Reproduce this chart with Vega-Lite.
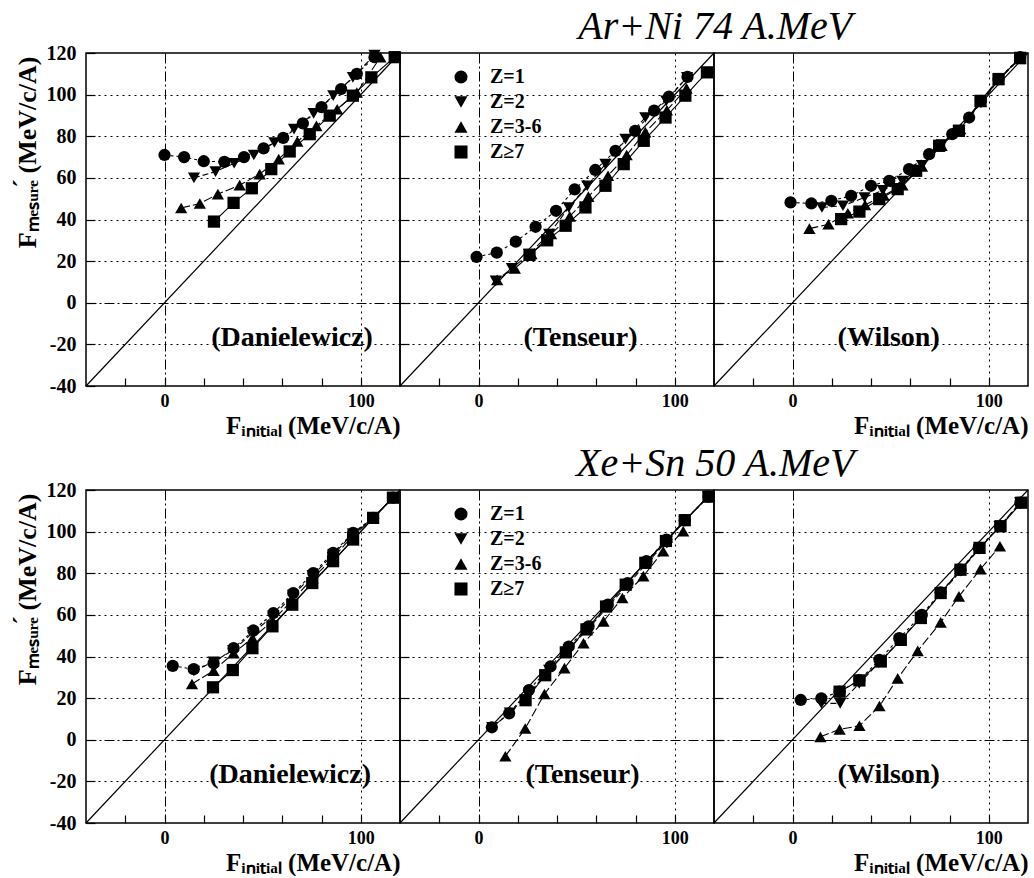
{
  "$schema": "https://vega.github.io/schema/vega-lite/v6.json",
  "padding": {"left": 13, "top": 7, "right": 0, "bottom": 0},
  "background": "white",
  "datasets": {
    "ar_dan": [
      {"Z":"Z=1","x":0,"y":71},{"Z":"Z=1","x":10,"y":70},{"Z":"Z=1","x":20,"y":68},{"Z":"Z=1","x":30.5,"y":67.7},{"Z":"Z=1","x":40.5,"y":70},{"Z":"Z=1","x":50.5,"y":74.2},{"Z":"Z=1","x":60.5,"y":79.2},{"Z":"Z=1","x":70.5,"y":86.2},{"Z":"Z=1","x":80,"y":94},{"Z":"Z=1","x":90,"y":102.7},{"Z":"Z=1","x":98,"y":110},{"Z":"Z=1","x":107,"y":118},
      {"Z":"Z=2","x":15,"y":60},{"Z":"Z=2","x":26,"y":63},{"Z":"Z=2","x":35.5,"y":67},{"Z":"Z=2","x":45.5,"y":71},{"Z":"Z=2","x":56,"y":77},{"Z":"Z=2","x":66,"y":83.4},{"Z":"Z=2","x":76,"y":91},{"Z":"Z=2","x":86,"y":99.5},{"Z":"Z=2","x":96,"y":108.3},{"Z":"Z=2","x":107,"y":119},
      {"Z":"Z=3-6","x":8.5,"y":45.5},{"Z":"Z=3-6","x":18,"y":47.7},{"Z":"Z=3-6","x":27.2,"y":52.2},{"Z":"Z=3-6","x":38.3,"y":56.5},{"Z":"Z=3-6","x":48.5,"y":61.8},{"Z":"Z=3-6","x":58.2,"y":69},{"Z":"Z=3-6","x":67.7,"y":77.5},{"Z":"Z=3-6","x":77.4,"y":85},{"Z":"Z=3-6","x":88,"y":93},{"Z":"Z=3-6","x":98,"y":101},{"Z":"Z=3-6","x":110,"y":118},
      {"Z":"Z≥7","x":25.2,"y":39},{"Z":"Z≥7","x":35.2,"y":48},{"Z":"Z≥7","x":44.5,"y":55},{"Z":"Z≥7","x":54.4,"y":64.2},{"Z":"Z≥7","x":63.8,"y":72.7},{"Z":"Z≥7","x":74,"y":81},{"Z":"Z≥7","x":84.2,"y":89.9},{"Z":"Z≥7","x":96,"y":99.5},{"Z":"Z≥7","x":105.4,"y":108.3},{"Z":"Z≥7","x":117.3,"y":118}
    ],
    "ar_ten": [
      {"Z":"Z=1","x":-1,"y":22},{"Z":"Z=1","x":9.3,"y":24.1},{"Z":"Z=1","x":19,"y":29.4},{"Z":"Z=1","x":29.1,"y":36.5},{"Z":"Z=1","x":39.5,"y":44.2},{"Z":"Z=1","x":49,"y":54.5},{"Z":"Z=1","x":59.5,"y":63.8},{"Z":"Z=1","x":69.8,"y":73},{"Z":"Z=1","x":79.8,"y":82.6},{"Z":"Z=1","x":89.5,"y":92.3},{"Z":"Z=1","x":97,"y":99},{"Z":"Z=1","x":106.5,"y":108.5},
      {"Z":"Z=2","x":8.8,"y":10.5},{"Z":"Z=2","x":17,"y":16.5},{"Z":"Z=2","x":25.8,"y":23.4},{"Z":"Z=2","x":36,"y":33},{"Z":"Z=2","x":46,"y":45.8},{"Z":"Z=2","x":55.4,"y":56.2},{"Z":"Z=2","x":64.7,"y":66.6},{"Z":"Z=2","x":74.9,"y":78.6},{"Z":"Z=2","x":85,"y":89},{"Z":"Z=2","x":95.7,"y":97},{"Z":"Z=2","x":106.3,"y":108.3},
      {"Z":"Z=3-6","x":9.5,"y":11},{"Z":"Z=3-6","x":18.5,"y":16.5},{"Z":"Z=3-6","x":27,"y":23.5},{"Z":"Z=3-6","x":37,"y":33},{"Z":"Z=3-6","x":46.5,"y":41.5},{"Z":"Z=3-6","x":56,"y":51},{"Z":"Z=3-6","x":66,"y":61},{"Z":"Z=3-6","x":75.5,"y":71},{"Z":"Z=3-6","x":85,"y":82},{"Z":"Z=3-6","x":96,"y":92.5},{"Z":"Z=3-6","x":106,"y":103},
      {"Z":"Z≥7","x":26,"y":23},{"Z":"Z≥7","x":35,"y":30},{"Z":"Z≥7","x":44.4,"y":37},{"Z":"Z≥7","x":54.5,"y":45.8},{"Z":"Z≥7","x":64.7,"y":56.2},{"Z":"Z≥7","x":74,"y":66.6},{"Z":"Z≥7","x":84.2,"y":77.8},{"Z":"Z≥7","x":95.3,"y":89},{"Z":"Z≥7","x":105.4,"y":99.5},{"Z":"Z≥7","x":116.4,"y":110.7}
    ],
    "ar_wil": [
      {"Z":"Z=1","x":-1,"y":48.2},{"Z":"Z=1","x":9.6,"y":47.7},{"Z":"Z=1","x":19.8,"y":49},{"Z":"Z=1","x":29.9,"y":51.4},{"Z":"Z=1","x":40,"y":56.2},{"Z":"Z=1","x":49.3,"y":58.6},{"Z":"Z=1","x":59.4,"y":64.2},{"Z":"Z=1","x":69.6,"y":71.4},{"Z":"Z=1","x":81.4,"y":81},{"Z":"Z=1","x":90,"y":89},{"Z":"Z=1","x":96,"y":97},{"Z":"Z=1","x":105,"y":107.5},{"Z":"Z=1","x":116,"y":118},
      {"Z":"Z=2","x":15,"y":45.8},{"Z":"Z=2","x":25.7,"y":46.6},{"Z":"Z=2","x":36.7,"y":50.6},{"Z":"Z=2","x":46,"y":54},{"Z":"Z=2","x":56,"y":58.5},{"Z":"Z=2","x":66,"y":66},{"Z":"Z=2","x":76,"y":76},{"Z":"Z=2","x":85,"y":83},{"Z":"Z=2","x":96,"y":96},{"Z":"Z=2","x":105,"y":107},{"Z":"Z=2","x":116,"y":118},
      {"Z":"Z=3-6","x":8.6,"y":35.6},{"Z":"Z=3-6","x":18.3,"y":37.7},{"Z":"Z=3-6","x":28.2,"y":43},{"Z":"Z=3-6","x":37,"y":47},{"Z":"Z=3-6","x":46.5,"y":51.5},{"Z":"Z=3-6","x":56,"y":56.5},{"Z":"Z=3-6","x":66,"y":65.5},{"Z":"Z=3-6","x":76,"y":75.5},{"Z":"Z=3-6","x":85.5,"y":83.5},{"Z":"Z=3-6","x":96,"y":96.5},{"Z":"Z=3-6","x":105,"y":107},{"Z":"Z=3-6","x":116,"y":117.5},
      {"Z":"Z≥7","x":24.8,"y":40.2},{"Z":"Z≥7","x":34.1,"y":43.8},{"Z":"Z≥7","x":44.2,"y":49.8},{"Z":"Z≥7","x":53.6,"y":54.6},{"Z":"Z≥7","x":63,"y":63.4},{"Z":"Z≥7","x":74.7,"y":75.4},{"Z":"Z≥7","x":84.8,"y":82.6},{"Z":"Z≥7","x":95.8,"y":97},{"Z":"Z≥7","x":105,"y":107.5},{"Z":"Z≥7","x":116,"y":117.5}
    ],
    "xe_dan": [
      {"Z":"Z=1","x":4.2,"y":35.5},{"Z":"Z=1","x":14.9,"y":33.9},{"Z":"Z=1","x":25,"y":36.8},{"Z":"Z=1","x":35.2,"y":44},{"Z":"Z=1","x":45.3,"y":52.5},{"Z":"Z=1","x":55.5,"y":60.9},{"Z":"Z=1","x":65.6,"y":70.5},{"Z":"Z=1","x":75.8,"y":80.1},{"Z":"Z=1","x":85.9,"y":89.8},{"Z":"Z=1","x":96.1,"y":99.4},{"Z":"Z=1","x":106.3,"y":106.6},{"Z":"Z=1","x":116.4,"y":116.3},
      {"Z":"Z=2","x":15,"y":33},{"Z":"Z=2","x":25,"y":37.5},{"Z":"Z=2","x":35,"y":43},{"Z":"Z=2","x":45,"y":51.5},{"Z":"Z=2","x":55.5,"y":59.5},{"Z":"Z=2","x":65.5,"y":69.5},{"Z":"Z=2","x":75.5,"y":79},{"Z":"Z=2","x":86,"y":89},{"Z":"Z=2","x":96,"y":99},{"Z":"Z=2","x":106.3,"y":106.6},{"Z":"Z=2","x":116.4,"y":116.3},
      {"Z":"Z=3-6","x":14,"y":26.8},{"Z":"Z=3-6","x":25,"y":33.2},{"Z":"Z=3-6","x":35.2,"y":41.6},{"Z":"Z=3-6","x":44.8,"y":48.8},{"Z":"Z=3-6","x":55,"y":57},{"Z":"Z=3-6","x":65,"y":67},{"Z":"Z=3-6","x":75.5,"y":77.5},{"Z":"Z=3-6","x":86,"y":87.5},{"Z":"Z=3-6","x":96,"y":98},{"Z":"Z=3-6","x":106.3,"y":106.6},{"Z":"Z=3-6","x":116.4,"y":116.3},
      {"Z":"Z≥7","x":24.7,"y":25.2},{"Z":"Z≥7","x":34.8,"y":33.5},{"Z":"Z≥7","x":44.8,"y":44},{"Z":"Z≥7","x":55,"y":54.5},{"Z":"Z≥7","x":65.1,"y":64.9},{"Z":"Z≥7","x":75.3,"y":75.3},{"Z":"Z≥7","x":85.9,"y":85.8},{"Z":"Z≥7","x":96.1,"y":96.2},{"Z":"Z≥7","x":106.3,"y":106.6},{"Z":"Z≥7","x":116.4,"y":116.3}
    ],
    "xe_ten": [
      {"Z":"Z=1","x":6.8,"y":6},{"Z":"Z=1","x":15.6,"y":12.7},{"Z":"Z=1","x":25.7,"y":23.9},{"Z":"Z=1","x":36.7,"y":35.2},{"Z":"Z=1","x":46,"y":44.8},{"Z":"Z=1","x":56.1,"y":54.5},{"Z":"Z=1","x":65.9,"y":64.9},{"Z":"Z=1","x":76,"y":75.3},{"Z":"Z=1","x":85.6,"y":85.8},{"Z":"Z=1","x":95.8,"y":96.2},{"Z":"Z=1","x":105.1,"y":105.5},{"Z":"Z=1","x":117.2,"y":116.8},
      {"Z":"Z=2","x":7,"y":6},{"Z":"Z=2","x":16,"y":13},{"Z":"Z=2","x":26,"y":22.5},{"Z":"Z=2","x":36,"y":33.5},{"Z":"Z=2","x":46,"y":43.5},{"Z":"Z=2","x":56,"y":53.5},{"Z":"Z=2","x":66,"y":64},{"Z":"Z=2","x":76,"y":74.5},{"Z":"Z=2","x":86,"y":85},{"Z":"Z=2","x":96,"y":95.5},{"Z":"Z=2","x":105,"y":105},{"Z":"Z=2","x":117,"y":116.8},
      {"Z":"Z=3-6","x":13.7,"y":-7.9},{"Z":"Z=3-6","x":23.8,"y":5.4},{"Z":"Z=3-6","x":33.6,"y":22},{"Z":"Z=3-6","x":43.8,"y":34.4},{"Z":"Z=3-6","x":53.5,"y":46.4},{"Z":"Z=3-6","x":63.7,"y":56.9},{"Z":"Z=3-6","x":73.3,"y":68.1},{"Z":"Z=3-6","x":84,"y":78.6},{"Z":"Z=3-6","x":94.1,"y":90.6},{"Z":"Z=3-6","x":104.3,"y":100.2},
      {"Z":"Z≥7","x":24,"y":19},{"Z":"Z≥7","x":34,"y":31},{"Z":"Z≥7","x":44.5,"y":42},{"Z":"Z≥7","x":55,"y":53},{"Z":"Z≥7","x":65,"y":64},{"Z":"Z≥7","x":75,"y":74.5},{"Z":"Z≥7","x":85,"y":85},{"Z":"Z≥7","x":95.5,"y":95.5},{"Z":"Z≥7","x":105.1,"y":105.5},{"Z":"Z≥7","x":117.2,"y":116.8}
    ],
    "xe_wil": [
      {"Z":"Z=1","x":4.2,"y":19.1},{"Z":"Z=1","x":14.7,"y":19.9},{"Z":"Z=1","x":24,"y":23.1},{"Z":"Z=1","x":34.1,"y":28.7},{"Z":"Z=1","x":44.3,"y":38.4},{"Z":"Z=1","x":54.4,"y":48.8},{"Z":"Z=1","x":65.9,"y":60},{"Z":"Z=1","x":75.5,"y":70.8},{"Z":"Z=1","x":85.6,"y":81.7},{"Z":"Z=1","x":94.9,"y":92.2},{"Z":"Z=1","x":105.7,"y":102.6},{"Z":"Z=1","x":116.1,"y":113.9},
      {"Z":"Z=2","x":14.7,"y":17.5},{"Z":"Z=2","x":24.3,"y":17.5},{"Z":"Z=2","x":34,"y":27},{"Z":"Z=2","x":44,"y":37},{"Z":"Z=2","x":54.5,"y":47.5},{"Z":"Z=2","x":65.5,"y":59},{"Z":"Z=2","x":75.5,"y":70},{"Z":"Z=2","x":85.5,"y":81},{"Z":"Z=2","x":95,"y":91.5},{"Z":"Z=2","x":105.5,"y":102.5},{"Z":"Z=2","x":116,"y":114},
      {"Z":"Z=3-6","x":14.2,"y":1.4},{"Z":"Z=3-6","x":24,"y":5},{"Z":"Z=3-6","x":34.1,"y":6.7},{"Z":"Z=3-6","x":44.3,"y":16.2},{"Z":"Z=3-6","x":53.6,"y":29.5},{"Z":"Z=3-6","x":63.8,"y":42.7},{"Z":"Z=3-6","x":75.5,"y":56.4},{"Z":"Z=3-6","x":84.8,"y":68.9},{"Z":"Z=3-6","x":95.8,"y":82},{"Z":"Z=3-6","x":105.7,"y":93},
      {"Z":"Z≥7","x":24,"y":23.1},{"Z":"Z≥7","x":34.1,"y":28.5},{"Z":"Z≥7","x":45,"y":37.6},{"Z":"Z≥7","x":55.2,"y":48},{"Z":"Z≥7","x":65.4,"y":58.5},{"Z":"Z≥7","x":75.5,"y":70.5},{"Z":"Z≥7","x":85.6,"y":81.7},{"Z":"Z≥7","x":95.3,"y":92.2},{"Z":"Z≥7","x":106,"y":102.6},{"Z":"Z≥7","x":116.6,"y":113.9}
    ]
  },
  "vconcat": [
    {
      "title": {"text": "Ar+Ni 74 A.MeV", "anchor": "middle", "dx": 193, "offset": -5},
      "spacing": 0, "bounds": "flush",
      "resolve": {"scale": {"shape": "independent"}, "legend": {"shape": "independent"}},
      "hconcat": [
        {
          "width": 314, "height": 333,
          "layer": [
            {"data": {"values": [{"x": -40, "y": -40}, {"x": 120, "y": 120}]}, "mark": {"type": "line", "color": "black", "strokeWidth": 1.2},
             "encoding": {
               "x": {"field": "x", "type": "quantitative", "title": "F\u1d62\u2099\u1d62\u209c\u1d62\u2090\u2097 (MeV/c/A)", "scale": {"domain": [-40, 120], "nice": false, "zero": false},
                     "axis": {"values": [-20, 0, 20, 40, 60, 80, 100], "labelExpr": "datum.value == 0 || datum.value == 100 ? '' + datum.value : ''", "gridDash": {"condition": {"test": "datum.value == 0", "value": [10, 3, 2, 3]}, "value": [2, 4]}, "gridOpacity": {"condition": {"test": "datum.value == 0 || datum.value == 100", "value": 1}, "value": 0}, "titleAnchor": "end"}},
               "y": {"field": "y", "type": "quantitative", "title": "F\u2098\u2091\u209b\u1d64\u1d63\u2091\u0301 (MeV/c/A)", "scale": {"domain": [-40, 120], "nice": false, "zero": false},
                     "axis": {"values": [-40,-35,-30,-25,-20,-15,-10,-5,0,5,10,15,20,25,30,35,40,45,50,55,60,65,70,75,80,85,90,95,100,105,110,115,120], "labelExpr": "datum.value % 20 == 0 ? '' + datum.value : ''", "labelFontSize": 20, "labelPadding": 19, "tickSize": {"condition": {"test": "datum.value % 20 == 0", "value": -9}, "value": -5}, "gridDash": {"condition": {"test": "datum.value == 0", "value": [10, 3, 2, 3]}, "value": [2, 4]}, "gridOpacity": {"condition": {"test": "datum.value % 20 == 0 && datum.value > -40 && datum.value < 120", "value": 1}, "value": 0}, "titleAnchor": "end", "titleY": 3, "titleFontSize": 26, "titlePadding": 6}}
             }},
            {"data": {"name": "ar_dan"}, "mark": {"type": "line", "color": "black", "strokeWidth": 1.1},
             "encoding": {"x": {"field": "x", "type": "quantitative", "title": "F\u1d62\u2099\u1d62\u209c\u1d62\u2090\u2097 (MeV/c/A)"}, "y": {"field": "y", "type": "quantitative", "title": "F\u2098\u2091\u209b\u1d64\u1d63\u2091\u0301 (MeV/c/A)"}, "detail": {"field": "Z"},
               "strokeDash": {"condition": [{"test": "datum.Z == 'Z=1'", "value": [3, 3]}, {"test": "datum.Z == 'Z=2'", "value": [6, 3]}, {"test": "datum.Z == 'Z=3-6'", "value": [9, 3]}], "value": [1, 0]}}},
            {"data": {"name": "ar_dan"}, "mark": {"type": "point", "filled": true, "color": "black", "opacity": 1, "size": 150},
             "encoding": {"x": {"field": "x", "type": "quantitative", "title": "F\u1d62\u2099\u1d62\u209c\u1d62\u2090\u2097 (MeV/c/A)"}, "y": {"field": "y", "type": "quantitative", "title": "F\u2098\u2091\u209b\u1d64\u1d63\u2091\u0301 (MeV/c/A)"},
               "shape": {"field": "Z", "type": "nominal", "scale": {"domain": ["Z=1", "Z=2", "Z=3-6", "Z≥7"], "range": ["circle", "triangle-down", "triangle-up", "square"]}, "legend": null}}},
            {"data": {"values": [{}]}, "mark": {"type": "text", "font": "Liberation Serif", "fontWeight": "bold", "fontSize": 28, "baseline": "alphabetic", "align": "center", "color": "black"},
             "encoding": {"x": {"datum": 65}, "y": {"datum": -21}, "text": {"value": "(Danielewicz)"}}}
          ]
        },
        {
          "width": 314, "height": 333,
          "layer": [
            {"data": {"values": [{"x": -40, "y": -40}, {"x": 120, "y": 120}]}, "mark": {"type": "line", "color": "black", "strokeWidth": 1.2},
             "encoding": {
               "x": {"field": "x", "type": "quantitative", "title": null, "scale": {"domain": [-40, 120], "nice": false, "zero": false},
                     "axis": {"values": [-20, 0, 20, 40, 60, 80, 100], "labelExpr": "datum.value == 0 || datum.value == 100 ? '' + datum.value : ''", "gridDash": {"condition": {"test": "datum.value == 0", "value": [10, 3, 2, 3]}, "value": [2, 4]}, "gridOpacity": {"condition": {"test": "datum.value == 0 || datum.value == 100", "value": 1}, "value": 0}}},
               "y": {"field": "y", "type": "quantitative", "title": null, "scale": {"domain": [-40, 120], "nice": false, "zero": false},
                     "axis": {"values": [-20, 0, 20, 40, 60, 80, 100], "labels": false, "tickSize": -9, "gridDash": {"condition": {"test": "datum.value == 0", "value": [10, 3, 2, 3]}, "value": [2, 4]}}}
             }},
            {"data": {"name": "ar_ten"}, "mark": {"type": "line", "color": "black", "strokeWidth": 1.1},
             "encoding": {"x": {"field": "x", "type": "quantitative", "title": null}, "y": {"field": "y", "type": "quantitative", "title": null}, "detail": {"field": "Z"},
               "strokeDash": {"condition": [{"test": "datum.Z == 'Z=1'", "value": [3, 3]}, {"test": "datum.Z == 'Z=2'", "value": [6, 3]}, {"test": "datum.Z == 'Z=3-6'", "value": [9, 3]}], "value": [1, 0]}}},
            {"data": {"name": "ar_ten"}, "mark": {"type": "point", "filled": true, "color": "black", "opacity": 1, "size": 150},
             "encoding": {"x": {"field": "x", "type": "quantitative", "title": null}, "y": {"field": "y", "type": "quantitative", "title": null},
               "shape": {"field": "Z", "type": "nominal", "scale": {"domain": ["Z=1", "Z=2", "Z=3-6", "Z≥7"], "range": ["circle", "triangle-down", "triangle-up", "square"]},
                         "legend": {"orient": "none", "legendX": 51, "legendY": 14, "title": null, "padding": 0, "symbolSize": 170, "symbolFillColor": "black", "symbolStrokeColor": "black", "labelFont": "Liberation Serif", "labelFontWeight": "bold", "labelFontSize": 20, "labelColor": "black", "labelOffset": 19, "rowPadding": 5}}}},
            {"data": {"values": [{}]}, "mark": {"type": "text", "font": "Liberation Serif", "fontWeight": "bold", "fontSize": 28, "baseline": "alphabetic", "align": "center", "color": "black"},
             "encoding": {"x": {"datum": 52}, "y": {"datum": -21}, "text": {"value": "(Tenseur)"}}}
          ]
        },
        {
          "width": 314, "height": 333,
          "layer": [
            {"data": {"values": [{"x": -40, "y": -40}, {"x": 120, "y": 120}]}, "mark": {"type": "line", "color": "black", "strokeWidth": 1.2},
             "encoding": {
               "x": {"field": "x", "type": "quantitative", "title": "F\u1d62\u2099\u1d62\u209c\u1d62\u2090\u2097 (MeV/c/A)", "scale": {"domain": [-40, 120], "nice": false, "zero": false},
                     "axis": {"values": [-20, 0, 20, 40, 60, 80, 100], "labelExpr": "datum.value == 0 || datum.value == 100 ? '' + datum.value : ''", "gridDash": {"condition": {"test": "datum.value == 0", "value": [10, 3, 2, 3]}, "value": [2, 4]}, "gridOpacity": {"condition": {"test": "datum.value == 0 || datum.value == 100", "value": 1}, "value": 0}, "titleAnchor": "end"}},
               "y": {"field": "y", "type": "quantitative", "title": null, "scale": {"domain": [-40, 120], "nice": false, "zero": false},
                     "axis": {"values": [-20, 0, 20, 40, 60, 80, 100], "labels": false, "tickSize": -9, "gridDash": {"condition": {"test": "datum.value == 0", "value": [10, 3, 2, 3]}, "value": [2, 4]}}}
             }},
            {"data": {"name": "ar_wil"}, "mark": {"type": "line", "color": "black", "strokeWidth": 1.1},
             "encoding": {"x": {"field": "x", "type": "quantitative", "title": "F\u1d62\u2099\u1d62\u209c\u1d62\u2090\u2097 (MeV/c/A)"}, "y": {"field": "y", "type": "quantitative", "title": null}, "detail": {"field": "Z"},
               "strokeDash": {"condition": [{"test": "datum.Z == 'Z=1'", "value": [3, 3]}, {"test": "datum.Z == 'Z=2'", "value": [6, 3]}, {"test": "datum.Z == 'Z=3-6'", "value": [9, 3]}], "value": [1, 0]}}},
            {"data": {"name": "ar_wil"}, "mark": {"type": "point", "filled": true, "color": "black", "opacity": 1, "size": 150},
             "encoding": {"x": {"field": "x", "type": "quantitative", "title": "F\u1d62\u2099\u1d62\u209c\u1d62\u2090\u2097 (MeV/c/A)"}, "y": {"field": "y", "type": "quantitative", "title": null},
               "shape": {"field": "Z", "type": "nominal", "scale": {"domain": ["Z=1", "Z=2", "Z=3-6", "Z≥7"], "range": ["circle", "triangle-down", "triangle-up", "square"]}, "legend": null}}},
            {"data": {"values": [{}]}, "mark": {"type": "text", "font": "Liberation Serif", "fontWeight": "bold", "fontSize": 28, "baseline": "alphabetic", "align": "center", "color": "black"},
             "encoding": {"x": {"datum": 49}, "y": {"datum": -21}, "text": {"value": "(Wilson)"}}}
          ]
        }
      ]
    },
    {
      "title": {"text": "Xe+Sn 50 A.MeV", "anchor": "middle", "dx": 193, "offset": -5},
      "spacing": 0, "bounds": "flush",
      "resolve": {"scale": {"shape": "independent"}, "legend": {"shape": "independent"}},
      "hconcat": [
        {
          "width": 314, "height": 333,
          "layer": [
            {"data": {"values": [{"x": -40, "y": -40}, {"x": 120, "y": 120}]}, "mark": {"type": "line", "color": "black", "strokeWidth": 1.2},
             "encoding": {
               "x": {"field": "x", "type": "quantitative", "title": "F\u1d62\u2099\u1d62\u209c\u1d62\u2090\u2097 (MeV/c/A)", "scale": {"domain": [-40, 120], "nice": false, "zero": false},
                     "axis": {"values": [-20, 0, 20, 40, 60, 80, 100], "labelExpr": "datum.value == 0 || datum.value == 100 ? '' + datum.value : ''", "gridDash": {"condition": {"test": "datum.value == 0", "value": [10, 3, 2, 3]}, "value": [2, 4]}, "gridOpacity": {"condition": {"test": "datum.value == 0 || datum.value == 100", "value": 1}, "value": 0}, "titleAnchor": "end"}},
               "y": {"field": "y", "type": "quantitative", "title": "F\u2098\u2091\u209b\u1d64\u1d63\u2091\u0301 (MeV/c/A)", "scale": {"domain": [-40, 120], "nice": false, "zero": false},
                     "axis": {"values": [-40,-35,-30,-25,-20,-15,-10,-5,0,5,10,15,20,25,30,35,40,45,50,55,60,65,70,75,80,85,90,95,100,105,110,115,120], "labelExpr": "datum.value % 20 == 0 ? '' + datum.value : ''", "labelFontSize": 20, "labelPadding": 19, "tickSize": {"condition": {"test": "datum.value % 20 == 0", "value": -9}, "value": -5}, "gridDash": {"condition": {"test": "datum.value == 0", "value": [10, 3, 2, 3]}, "value": [2, 4]}, "gridOpacity": {"condition": {"test": "datum.value % 20 == 0 && datum.value > -40 && datum.value < 120", "value": 1}, "value": 0}, "titleAnchor": "end", "titleY": 3, "titleFontSize": 26, "titlePadding": 6}}
             }},
            {"data": {"name": "xe_dan"}, "mark": {"type": "line", "color": "black", "strokeWidth": 1.1},
             "encoding": {"x": {"field": "x", "type": "quantitative", "title": "F\u1d62\u2099\u1d62\u209c\u1d62\u2090\u2097 (MeV/c/A)"}, "y": {"field": "y", "type": "quantitative", "title": "F\u2098\u2091\u209b\u1d64\u1d63\u2091\u0301 (MeV/c/A)"}, "detail": {"field": "Z"},
               "strokeDash": {"condition": [{"test": "datum.Z == 'Z=1'", "value": [3, 3]}, {"test": "datum.Z == 'Z=2'", "value": [6, 3]}, {"test": "datum.Z == 'Z=3-6'", "value": [9, 3]}], "value": [1, 0]}}},
            {"data": {"name": "xe_dan"}, "mark": {"type": "point", "filled": true, "color": "black", "opacity": 1, "size": 150},
             "encoding": {"x": {"field": "x", "type": "quantitative", "title": "F\u1d62\u2099\u1d62\u209c\u1d62\u2090\u2097 (MeV/c/A)"}, "y": {"field": "y", "type": "quantitative", "title": "F\u2098\u2091\u209b\u1d64\u1d63\u2091\u0301 (MeV/c/A)"},
               "shape": {"field": "Z", "type": "nominal", "scale": {"domain": ["Z=1", "Z=2", "Z=3-6", "Z≥7"], "range": ["circle", "triangle-down", "triangle-up", "square"]}, "legend": null}}},
            {"data": {"values": [{}]}, "mark": {"type": "text", "font": "Liberation Serif", "fontWeight": "bold", "fontSize": 28, "baseline": "alphabetic", "align": "center", "color": "black"},
             "encoding": {"x": {"datum": 64}, "y": {"datum": -21}, "text": {"value": "(Danielewicz)"}}}
          ]
        },
        {
          "width": 314, "height": 333,
          "layer": [
            {"data": {"values": [{"x": -40, "y": -40}, {"x": 120, "y": 120}]}, "mark": {"type": "line", "color": "black", "strokeWidth": 1.2},
             "encoding": {
               "x": {"field": "x", "type": "quantitative", "title": null, "scale": {"domain": [-40, 120], "nice": false, "zero": false},
                     "axis": {"values": [-20, 0, 20, 40, 60, 80, 100], "labelExpr": "datum.value == 0 || datum.value == 100 ? '' + datum.value : ''", "gridDash": {"condition": {"test": "datum.value == 0", "value": [10, 3, 2, 3]}, "value": [2, 4]}, "gridOpacity": {"condition": {"test": "datum.value == 0 || datum.value == 100", "value": 1}, "value": 0}}},
               "y": {"field": "y", "type": "quantitative", "title": null, "scale": {"domain": [-40, 120], "nice": false, "zero": false},
                     "axis": {"values": [-20, 0, 20, 40, 60, 80, 100], "labels": false, "tickSize": -9, "gridDash": {"condition": {"test": "datum.value == 0", "value": [10, 3, 2, 3]}, "value": [2, 4]}}}
             }},
            {"data": {"name": "xe_ten"}, "mark": {"type": "line", "color": "black", "strokeWidth": 1.1},
             "encoding": {"x": {"field": "x", "type": "quantitative", "title": null}, "y": {"field": "y", "type": "quantitative", "title": null}, "detail": {"field": "Z"},
               "strokeDash": {"condition": [{"test": "datum.Z == 'Z=1'", "value": [3, 3]}, {"test": "datum.Z == 'Z=2'", "value": [6, 3]}, {"test": "datum.Z == 'Z=3-6'", "value": [9, 3]}], "value": [1, 0]}}},
            {"data": {"name": "xe_ten"}, "mark": {"type": "point", "filled": true, "color": "black", "opacity": 1, "size": 150},
             "encoding": {"x": {"field": "x", "type": "quantitative", "title": null}, "y": {"field": "y", "type": "quantitative", "title": null},
               "shape": {"field": "Z", "type": "nominal", "scale": {"domain": ["Z=1", "Z=2", "Z=3-6", "Z≥7"], "range": ["circle", "triangle-down", "triangle-up", "square"]},
                         "legend": {"orient": "none", "legendX": 51, "legendY": 14, "title": null, "padding": 0, "symbolSize": 170, "symbolFillColor": "black", "symbolStrokeColor": "black", "labelFont": "Liberation Serif", "labelFontWeight": "bold", "labelFontSize": 20, "labelColor": "black", "labelOffset": 19, "rowPadding": 5}}}},
            {"data": {"values": [{}]}, "mark": {"type": "text", "font": "Liberation Serif", "fontWeight": "bold", "fontSize": 28, "baseline": "alphabetic", "align": "center", "color": "black"},
             "encoding": {"x": {"datum": 53}, "y": {"datum": -21}, "text": {"value": "(Tenseur)"}}}
          ]
        },
        {
          "width": 314, "height": 333,
          "layer": [
            {"data": {"values": [{"x": -40, "y": -40}, {"x": 120, "y": 120}]}, "mark": {"type": "line", "color": "black", "strokeWidth": 1.2},
             "encoding": {
               "x": {"field": "x", "type": "quantitative", "title": "F\u1d62\u2099\u1d62\u209c\u1d62\u2090\u2097 (MeV/c/A)", "scale": {"domain": [-40, 120], "nice": false, "zero": false},
                     "axis": {"values": [-20, 0, 20, 40, 60, 80, 100], "labelExpr": "datum.value == 0 || datum.value == 100 ? '' + datum.value : ''", "gridDash": {"condition": {"test": "datum.value == 0", "value": [10, 3, 2, 3]}, "value": [2, 4]}, "gridOpacity": {"condition": {"test": "datum.value == 0 || datum.value == 100", "value": 1}, "value": 0}, "titleAnchor": "end"}},
               "y": {"field": "y", "type": "quantitative", "title": null, "scale": {"domain": [-40, 120], "nice": false, "zero": false},
                     "axis": {"values": [-20, 0, 20, 40, 60, 80, 100], "labels": false, "tickSize": -9, "gridDash": {"condition": {"test": "datum.value == 0", "value": [10, 3, 2, 3]}, "value": [2, 4]}}}
             }},
            {"data": {"name": "xe_wil"}, "mark": {"type": "line", "color": "black", "strokeWidth": 1.1},
             "encoding": {"x": {"field": "x", "type": "quantitative", "title": "F\u1d62\u2099\u1d62\u209c\u1d62\u2090\u2097 (MeV/c/A)"}, "y": {"field": "y", "type": "quantitative", "title": null}, "detail": {"field": "Z"},
               "strokeDash": {"condition": [{"test": "datum.Z == 'Z=1'", "value": [3, 3]}, {"test": "datum.Z == 'Z=2'", "value": [6, 3]}, {"test": "datum.Z == 'Z=3-6'", "value": [9, 3]}], "value": [1, 0]}}},
            {"data": {"name": "xe_wil"}, "mark": {"type": "point", "filled": true, "color": "black", "opacity": 1, "size": 150},
             "encoding": {"x": {"field": "x", "type": "quantitative", "title": "F\u1d62\u2099\u1d62\u209c\u1d62\u2090\u2097 (MeV/c/A)"}, "y": {"field": "y", "type": "quantitative", "title": null},
               "shape": {"field": "Z", "type": "nominal", "scale": {"domain": ["Z=1", "Z=2", "Z=3-6", "Z≥7"], "range": ["circle", "triangle-down", "triangle-up", "square"]}, "legend": null}}},
            {"data": {"values": [{}]}, "mark": {"type": "text", "font": "Liberation Serif", "fontWeight": "bold", "fontSize": 28, "baseline": "alphabetic", "align": "center", "color": "black"},
             "encoding": {"x": {"datum": 49}, "y": {"datum": -21}, "text": {"value": "(Wilson)"}}}
          ]
        }
      ]
    }
  ],
  "spacing": 5,
  "config": {
    "view": {"stroke": "black", "strokeWidth": 1.5},
    "title": {"font": "Liberation Serif", "fontStyle": "italic", "fontWeight": "normal", "fontSize": 40, "color": "black"},
    "axis": {"domain": false, "ticks": true, "tickSize": -8, "tickColor": "black", "tickWidth": 1.2, "labelFont": "Liberation Serif", "labelFontWeight": "bold", "labelFontSize": 18, "labelColor": "black", "labelPadding": 14, "labelFlush": false, "grid": true, "gridColor": "black", "gridWidth": 1, "titleFont": "Liberation Serif", "titleFontWeight": "bold", "titleFontSize": 25, "titleColor": "black", "titlePadding": 3},
    "legend": {"labelFontWeight": "bold", "labelFont": "Liberation Serif"}
  }
}
